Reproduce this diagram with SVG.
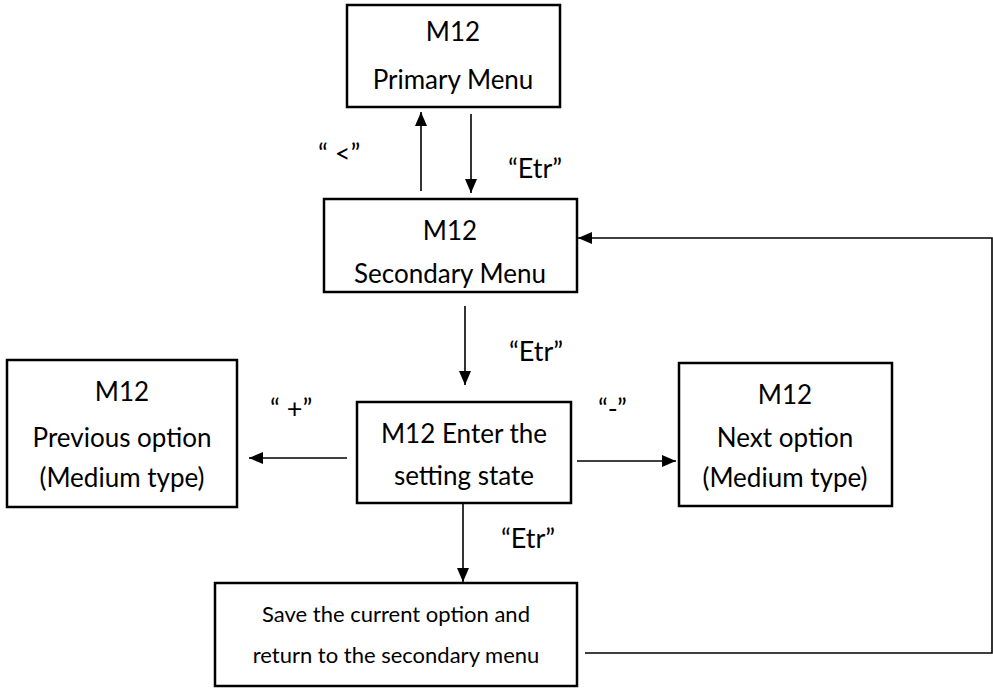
<svg xmlns="http://www.w3.org/2000/svg" width="993" height="688" viewBox="0 0 993 688">
<style>
.box{fill:#fff;stroke:#000;stroke-width:2.5}
.t{font-family:Lato,"Open Sans","Liberation Sans",sans-serif;font-size:26px;fill:#000;text-anchor:middle}
.s{font-size:22px}
.lbl{font-family:Lato,"Open Sans","Liberation Sans",sans-serif;font-size:27px;fill:#000}
.c{fill:none;stroke:#000;stroke-width:1.6}
</style>
<defs>
<marker id="ah" viewBox="0 0 14 12" refX="14" refY="6" markerWidth="14" markerHeight="12" markerUnits="userSpaceOnUse" orient="auto">
<path d="M0,0L14,6L0,12Z" fill="#000"/>
</marker>
</defs>
<rect x="0" y="0" width="993" height="688" fill="#fff"/>
<g id="connectors">
<line class="c" x1="421" y1="191" x2="421" y2="112" marker-end="url(#ah)"/>
<line class="c" x1="471" y1="114" x2="471" y2="193" marker-end="url(#ah)"/>
<line class="c" x1="465" y1="306" x2="465" y2="385" marker-end="url(#ah)"/>
<line class="c" x1="347" y1="458" x2="249" y2="458" marker-end="url(#ah)"/>
<line class="c" x1="577" y1="461" x2="676" y2="461" marker-end="url(#ah)"/>
<line class="c" x1="463" y1="503" x2="463" y2="582" marker-end="url(#ah)"/>
<polyline class="c" points="585,653 992,653 992,238 578,238" stroke-width="2" marker-end="url(#ah)"/>
<text class="lbl" x="318" y="163">“ &lt;”</text>
<text class="lbl" x="508" y="178">“Etr”</text>
<text class="lbl" x="509" y="361">“Etr”</text>
<text class="lbl" x="270" y="418">“ +”</text>
<text class="lbl" x="598" y="418">“-”</text>
<text class="lbl" x="501" y="548">“Etr”</text>
</g>
<g id="primary">
<rect class="box" x="347" y="5" width="213" height="102"/>
<text class="t" x="453" y="41">M12</text>
<text class="t" x="453" y="89">Primary Menu</text>
</g>
<g id="secondary">
<rect class="box" x="324" y="199" width="253" height="93"/>
<text class="t" x="450" y="240">M12</text>
<text class="t" x="450" y="283">Secondary Menu</text>
</g>
<g id="previous">
<rect class="box" x="7" y="360" width="230" height="147"/>
<text class="t" x="122" y="401">M12</text>
<text class="t" x="122" y="447">Previous option</text>
<text class="t" x="122" y="487">(Medium type)</text>
</g>
<g id="setting">
<rect class="box" x="357" y="402" width="214" height="101"/>
<text class="t" x="464" y="443">M12 Enter the</text>
<text class="t" x="464" y="485">setting state</text>
</g>
<g id="next">
<rect class="box" x="679" y="363" width="213" height="143"/>
<text class="t" x="785" y="404">M12</text>
<text class="t" x="785" y="447">Next option</text>
<text class="t" x="785" y="487">(Medium type)</text>
</g>
<g id="save">
<rect class="box" x="215" y="583" width="362" height="103"/>
<text class="t s" x="396" y="622">Save the current option and</text>
<text class="t s" x="396" y="663">return to the secondary menu</text>
</g>
</svg>
